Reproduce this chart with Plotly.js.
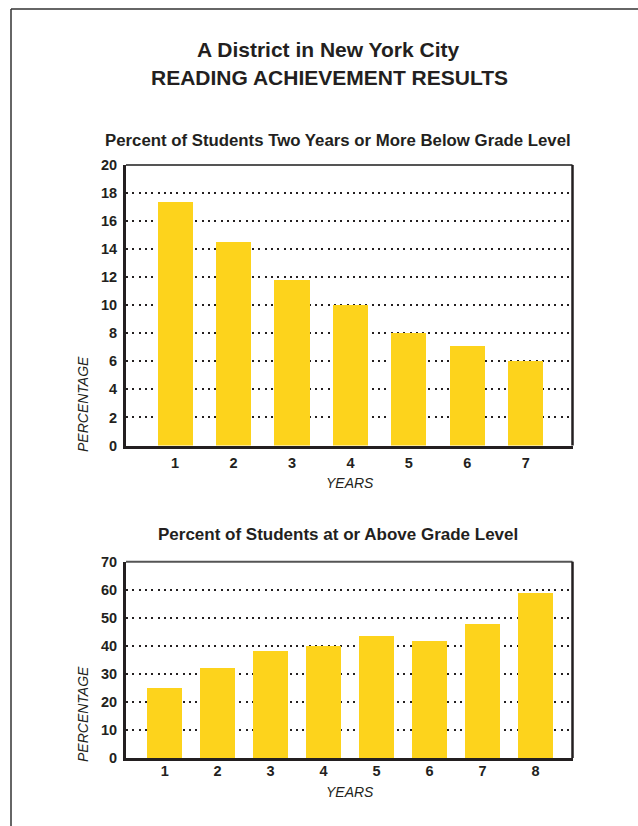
<!DOCTYPE html>
<html>
<head>
<meta charset="utf-8">
<script src="https://cdn.plot.ly/plotly-3.0.1.min.js"></script>
<style>html,body{margin:0;padding:0;background:#fff;}#chart{width:638px;height:826px;}</style>
</head>
<body>
<div id="chart"></div>
<script>
// ---- data ----
var mainTitle1 = "A District in New York City";
var mainTitle2 = "READING ACHIEVEMENT RESULTS";
var topTitle = "Percent of Students Two Years or More Below Grade Level";
var bottomTitle = "Percent of Students at or Above Grade Level";
var yTitle = "PERCENTAGE";
var xTitle = "YEARS";
var topYears = [1, 2, 3, 4, 5, 6, 7];
var topValues = [17.35, 14.5, 11.8, 10.05, 8.0, 7.1, 6.0];
var bottomYears = [1, 2, 3, 4, 5, 6, 7, 8];
var bottomValues = [25, 32, 38.2, 40, 43.6, 41.8, 47.9, 58.9];

// ---- layout helpers ----
var W = 638, H = 826;
function px(x){ return x / W; }
function py(y){ return 1 - y / H; }
var ink = "#231f20";
var barColor = "#fdd31c";
var font = "Liberation Sans, Arial, sans-serif";

var traces = [
  {type: "bar", x: topYears, y: topValues, width: 0.6, marker: {color: barColor}, xaxis: "x", yaxis: "y", hoverinfo: "none"},
  {type: "bar", x: bottomYears, y: bottomValues, width: 0.66, marker: {color: barColor}, xaxis: "x2", yaxis: "y2", hoverinfo: "none"}
];

function yAxis(domain, range, dtick, anchor){
  return {
    domain: domain, range: range, dtick: dtick, tick0: 0, anchor: anchor,
    showgrid: true, gridcolor: ink, gridwidth: 2, griddash: "2px,4.3px",
    zeroline: false, showline: true, linecolor: ink, linewidth: 3,
    ticks: "", ticklabelstandoff: 3,
    tickfont: {family: font, size: 14.5, color: ink, weight: "bold"},
    fixedrange: true
  };
}
function xAxis(domain, range, anchor, standoff, vals){
  return {
    domain: domain, range: range, anchor: anchor,
    tickvals: vals, ticktext: vals.map(String),
    showgrid: false, zeroline: false, showline: true, linecolor: ink, linewidth: 3,
    ticks: "", ticklabelstandoff: standoff,
    tickfont: {family: font, size: 14.5, color: ink, weight: "bold"},
    fixedrange: true
  };
}

var xd = [px(126), px(572.5)];
var topDom = [py(445.5), py(165)];
var botDom = [py(758), py(561.7)];

function ann(text, x, y, size, opts){
  var a = {text: text, xref: "paper", yref: "paper", x: px(x), y: py(y),
    xanchor: "center", yanchor: "middle", showarrow: false,
    font: {family: font, size: size, color: ink, weight: "bold"}};
  for (var k in opts) a[k] = opts[k];
  return a;
}
function italicFont(size){ return {family: font, size: size, color: ink, style: "italic"}; }

var layout = {
  width: W, height: H,
  margin: {l: 0, r: 0, t: 0, b: 0},
  paper_bgcolor: "#fff", plot_bgcolor: "#fff",
  showlegend: false, bargap: 0,
  xaxis: xAxis(xd, [0.16, 7.8], "y", 2, topYears),
  yaxis: yAxis(topDom, [0, 20], 2, "x"),
  xaxis2: xAxis(xd, [0.27, 8.7], "y2", -2, bottomYears),
  yaxis2: yAxis(botDom, [0, 70], 10, "x2"),
  annotations: [
    ann(mainTitle1, 328, 50, 21),
    ann(mainTitle2, 329, 78, 21),
    ann(topTitle, 338, 140, 16.8),
    ann(bottomTitle, 338, 534, 17),
    ann(yTitle, 83, 404, 14, {textangle: -90, font: italicFont(14)}),
    ann(yTitle, 83, 714, 14, {textangle: -90, font: italicFont(14)}),
    ann(xTitle, 350, 483, 14, {font: italicFont(14)}),
    ann(xTitle, 350, 792, 14, {font: italicFont(14)})
  ],
  shapes: [
    // page frame
    {type: "line", xref: "paper", yref: "paper", x0: px(11), x1: px(11), y0: 0, y1: py(9), line: {color: "#333", width: 1.5}},
    {type: "line", xref: "paper", yref: "paper", x0: px(11), x1: 1, y0: py(9), y1: py(9), line: {color: "#333", width: 1.5}},
    // top chart box top & right
    {type: "line", xref: "paper", yref: "paper", x0: xd[0], x1: xd[1], y0: topDom[1], y1: topDom[1], line: {color: "#555", width: 2}},
    {type: "line", xref: "paper", yref: "paper", x0: xd[1], x1: xd[1], y0: topDom[0], y1: topDom[1], line: {color: ink, width: 2.5}},
    // bottom chart box top & right
    {type: "line", xref: "paper", yref: "paper", x0: xd[0], x1: xd[1], y0: botDom[1], y1: botDom[1], line: {color: "#555", width: 2}},
    {type: "line", xref: "paper", yref: "paper", x0: xd[1], x1: xd[1], y0: botDom[0], y1: botDom[1], line: {color: ink, width: 2.5}}
  ]
};

Plotly.newPlot("chart", traces, layout, {staticPlot: true, displayModeBar: false});
</script>
</body>
</html>
